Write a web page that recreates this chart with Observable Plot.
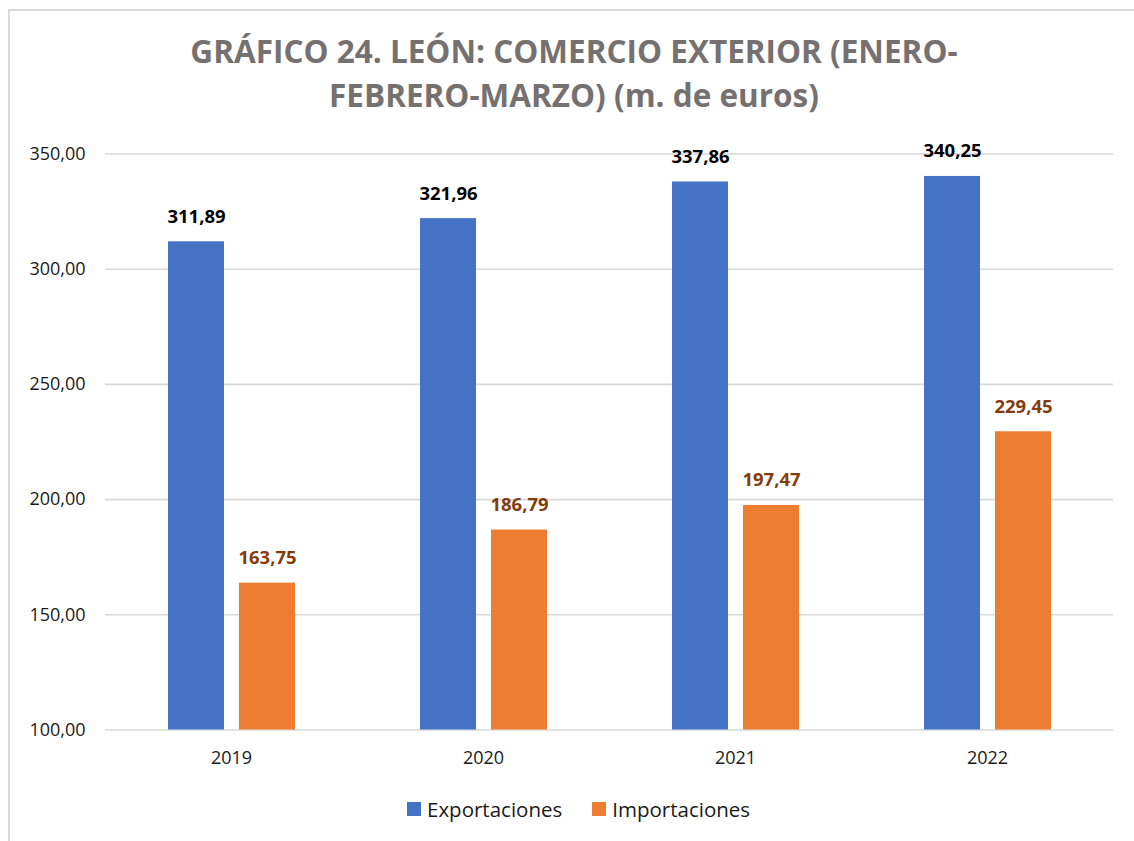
<!DOCTYPE html>
<html>
<head>
<meta charset="utf-8">
<script src="https://cdn.jsdelivr.net/npm/d3@7"></script>
<script src="https://cdn.jsdelivr.net/npm/@observablehq/plot@0.6"></script>
<style>
  html, body { margin: 0; padding: 0; background: #fff; overflow: hidden; width: 1134px; height: 841px; }
  #frame { position: absolute; left: 8px; top: 9px; width: 1200px; height: 900px; border: 2px solid #d9d9d9; box-sizing: border-box; }
  #title { position: absolute; left: 8px; width: 1132px; top: 29px; text-align: center;
           font-family: "Open Sans", sans-serif; font-weight: 700; font-size: 31.5px; line-height: 44px; color: #767171; }
  #chart { position: absolute; left: 0; top: 120px; }
  #legend { position: absolute; left: 407px; top: 795px; display: flex; align-items: center;
            font-family: "Open Sans", sans-serif; font-size: 20.5px; color: #1a1a1a; line-height: 28px; }
  .sw { width: 14px; height: 14px; display: inline-block; margin-right: 6px; }
  .item { display: flex; align-items: center; margin-right: 30px; }
</style>
</head>
<body>
<div id="frame"></div>
<div id="title">GRÁFICO 24. LEÓN: COMERCIO EXTERIOR (ENERO-<br>FEBRERO-MARZO) (m. de euros)</div>
<div id="chart"></div>
<div id="legend"></div>
<script>
// ---- data ----
const years = ["2019", "2020", "2021", "2022"];
const series = ["Exportaciones", "Importaciones"];
const exportaciones = [311.89, 321.96, 337.86, 340.25];
const importaciones = [163.75, 186.79, 197.47, 229.45];
const yTicks = [100, 150, 200, 250, 300, 350];
const seriesColors = ["#4472C4", "#ED7D31"];
const labelColors = ["#000000", "#843C0C"];

const rows = [];
years.forEach((yr, i) => {
  rows.push({year: yr, series: series[0], value: exportaciones[i]});
  rows.push({year: yr, series: series[1], value: importaciones[i]});
});
const fmt = v => d3.format(".2f")(v).replace(".", ",");
const yMin = yTicks[0], yMax = yTicks[yTicks.length - 1];

const chart = Plot.plot({
  width: 1134,
  height: 660,
  marginLeft: 104,
  marginRight: 21,
  marginTop: 33.5,
  marginBottom: 50.5,
  style: {fontFamily: "'Open Sans', sans-serif", fontSize: "18px", color: "#1a1a1a", background: "transparent"},
  fx: {domain: years, paddingInner: 0, paddingOuter: 0, axis: "bottom", label: null, tickSize: 0, tickPadding: 21},
  x: {domain: series, paddingInner: 0.215, paddingOuter: 0.876, axis: null},
  y: {domain: [yMin, yMax], ticks: yTicks, tickFormat: fmt, tickSize: 0, tickPadding: 20, label: null},
  color: {domain: series, range: seriesColors},
  marks: [
    Plot.ruleY(yTicks, {y: d => d, stroke: "#d9d9d9", strokeWidth: 1.6}),
    Plot.barY(rows, {fx: "year", x: "series", y1: () => yMin, y2: "value", fill: "series"}),
    Plot.text(rows.filter(d => d.series === series[0]), {fx: "year", x: "series", y: "value", text: d => fmt(d.value),
      lineAnchor: "bottom", dy: -19, fill: labelColors[0], fontWeight: 700, fontSize: 18.5}),
    Plot.text(rows.filter(d => d.series === series[1]), {fx: "year", x: "series", y: "value", text: d => fmt(d.value),
      lineAnchor: "bottom", dy: -19, fill: labelColors[1], fontWeight: 700, fontSize: 18.5})
  ]
});
document.getElementById("chart").appendChild(chart);

const legend = document.getElementById("legend");
series.forEach((s, i) => {
  const it = document.createElement("div");
  it.className = "item";
  const sw = document.createElement("span");
  sw.className = "sw";
  sw.style.background = seriesColors[i];
  const t = document.createElement("span");
  t.textContent = s;
  it.appendChild(sw); it.appendChild(t);
  legend.appendChild(it);
});
</script>
</body>
</html>
